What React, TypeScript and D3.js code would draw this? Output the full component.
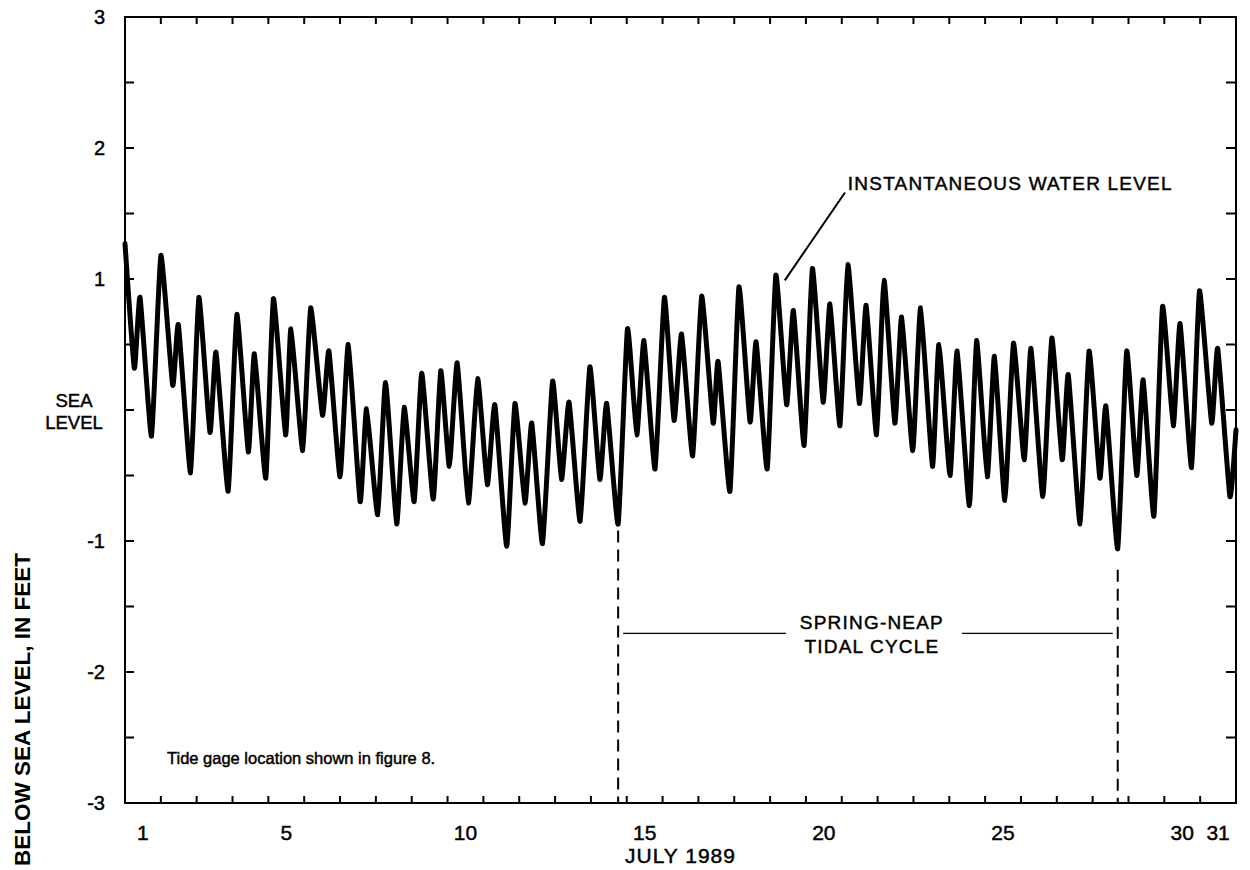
import React from 'react'
import { scaleLinear, line, curveCardinal, range } from 'd3'

// tide gage record, July 1989 (day of month, feet relative to sea level)
const tideDay = [
  1.00, 1.26, 1.42, 1.74, 2.00, 2.33, 2.49, 2.83, 3.06, 3.37,
  3.54, 3.88, 4.12, 4.44, 4.61, 4.93, 5.14, 5.48, 5.63, 5.96,
  6.18, 6.51, 6.69, 7.00, 7.23, 7.56, 7.74, 8.05, 8.27, 8.58,
  8.79, 9.07, 9.28, 9.60, 9.81, 10.05, 10.27, 10.58, 10.84, 11.11,
  11.32, 11.65, 11.88, 12.16, 12.35, 12.65, 12.93, 13.18, 13.39, 13.70,
  13.97, 14.25, 14.44, 14.76, 15.02, 15.28, 15.48, 15.79, 16.05, 16.32,
  16.53, 16.84, 17.09, 17.41, 17.55, 17.88, 18.13, 18.44, 18.61, 18.92,
  19.16, 19.46, 19.65, 19.95, 20.18, 20.48, 20.67, 20.95, 21.17, 21.49,
  21.68, 21.97, 22.18, 22.48, 22.67, 22.98, 23.20, 23.53, 23.71, 24.02,
  24.22, 24.56, 24.76, 25.06, 25.26, 25.55, 25.79, 26.09, 26.28, 26.61,
  26.86, 27.15, 27.32, 27.65, 27.90, 28.20, 28.37, 28.70, 28.95, 29.23,
  29.41, 29.71, 29.95, 30.25, 30.44, 30.76, 30.98, 31.32, 31.49, 31.83,
  32.00
]
const tideFeet = [
  1.27, 0.32, 0.86, -0.20, 1.18, 0.19, 0.65, -0.48, 0.86, -0.17,
  0.44, -0.62, 0.73, -0.32, 0.43, -0.52, 0.85, -0.19, 0.62, -0.31,
  0.78, -0.04, 0.45, -0.51, 0.50, -0.70, 0.01, -0.80, 0.21, -0.87,
  0.02, -0.70, 0.28, -0.68, 0.30, -0.43, 0.36, -0.71, 0.24, -0.57,
  0.04, -1.04, 0.05, -0.71, -0.10, -1.02, 0.22, -0.53, 0.06, -0.85,
  0.33, -0.53, 0.05, -0.87, 0.62, -0.19, 0.53, -0.45, 0.86, -0.08,
  0.58, -0.35, 0.87, -0.10, 0.37, -0.62, 0.94, -0.09, 0.52, -0.45,
  1.03, 0.04, 0.76, -0.27, 1.08, 0.06, 0.81, -0.12, 1.11, 0.05,
  0.80, -0.19, 0.99, -0.10, 0.71, -0.31, 0.78, -0.43, 0.50, -0.50,
  0.45, -0.73, 0.53, -0.51, 0.41, -0.69, 0.51, -0.38, 0.47, -0.66,
  0.55, -0.38, 0.27, -0.87, 0.45, -0.52, 0.03, -1.06, 0.45, -0.50,
  0.23, -0.81, 0.79, -0.12, 0.66, -0.44, 0.91, -0.10, 0.47, -0.66,
  -0.15
]

const xLabelDays = [1, 5, 10, 15, 20, 25, 30, 31]
const yLabelValues = [3, 2, 1, -1, -2, -3]
const xAxisTitle = 'JULY 1989'
const yAxisTitle = 'BELOW SEA LEVEL, IN FEET'
const note = 'Tide gage location shown in figure 8.'

// spring-neap cycle: trough to trough
const cycleStart = { day: 14.76, top: -0.92 }
const cycleEnd = { day: 28.70, top: -1.22 }
const cycleLevel = -1.705

// leader for the curve label
const leaderFrom = { day: 19.41, feet: 0.99 }
const leaderTo = { day: 21.09, feet: 1.66 }
const curveLabel = { day: 21.17, feet: 1.68, text: 'INSTANTANEOUS WATER LEVEL' }

const font = '"Liberation Sans", Arial, Helvetica, sans-serif'

export default function App() {
  const width = 1250,
    height = 870,
    plot = { left: 125, right: 1236, top: 17, bottom: 803 }

  const xScale = scaleLinear().domain([1, 32]).range([plot.left, plot.right])
  const yScale = scaleLinear().domain([-3, 3]).range([plot.bottom, plot.top])

  const points = tideDay.map((d, i) => [d, tideFeet[i]] as [number, number])
  const lineGenerator = line<[number, number]>()
    .x(d => xScale(d[0]))
    .y(d => yScale(d[1]))
    .curve(curveCardinal.tension(0.55))

  const dayTicks = range(2, 32)
  const halfTicks = range(-2.5, 2.75, 0.5)

  const cx = (xScale(cycleStart.day) + xScale(cycleEnd.day)) / 2
  const cy = yScale(cycleLevel)

  // scanned lettering is a bit heavier than the regular face
  const ink = { fill: '#000', stroke: '#000', strokeWidth: 0.45 }

  return (
    <div>
      <style>{'body{margin:0}'}</style>
      <svg width={width} height={height} style={{ display: 'block', background: '#fff' }} fontFamily={font}>
        {/* frame */}
        <rect x={plot.left} y={plot.top} width={plot.right - plot.left} height={plot.bottom - plot.top}
          fill='none' stroke='#000' strokeWidth={2} />

        {/* day ticks, inward top and bottom */}
        {dayTicks.map(d => (
          <g key={'d' + d} stroke='#000' strokeWidth={2}>
            <line x1={xScale(d)} x2={xScale(d)} y1={plot.top} y2={plot.top + 7} />
            <line x1={xScale(d)} x2={xScale(d)} y1={plot.bottom} y2={plot.bottom - 7} />
          </g>
        ))}

        {/* half-foot ticks, inward left and right */}
        {halfTicks.map(v => (
          <g key={'v' + v} stroke='#000' strokeWidth={2}>
            <line x1={plot.left} x2={plot.left + 9} y1={yScale(v)} y2={yScale(v)} />
            <line x1={plot.right} x2={plot.right - 10} y1={yScale(v)} y2={yScale(v)} />
          </g>
        ))}

        {/* y labels */}
        {yLabelValues.map(v => (
          <text key={'yl' + v} x={plot.left - 20} y={yScale(v) + 7} textAnchor='end' fontSize={20} {...ink}>
            {v}
          </text>
        ))}
        <text x={74} y={yScale(0) - 3} textAnchor='middle' fontSize={18.5} {...ink}>SEA</text>
        <text x={74} y={yScale(0) + 19} textAnchor='middle' fontSize={18.5} {...ink}>LEVEL</text>

        {/* x labels */}
        {xLabelDays.map(d => (
          <text key={'xl' + d} x={xScale(d + 0.5)} y={840} textAnchor='middle' fontSize={21} {...ink}>
            {d}
          </text>
        ))}
        <text x={(plot.left + plot.right) / 2} y={863} textAnchor='middle' fontSize={21} letterSpacing={1} {...ink}>
          {xAxisTitle}
        </text>

        {/* y title along the left edge */}
        <text transform={`translate(30, 553) rotate(-90)`} textAnchor='end' fontSize={22.5} fontWeight='bold'>
          {yAxisTitle}
        </text>

        {/* water level */}
        <path d={lineGenerator(points) || ''} fill='none' stroke='#000' strokeWidth={5}
          strokeLinejoin='round' strokeLinecap='round' />

        {/* spring-neap bracket */}
        <line x1={xScale(cycleStart.day)} x2={xScale(cycleStart.day)} y1={yScale(cycleStart.top)} y2={plot.bottom}
          stroke='#000' strokeWidth={2} strokeDasharray='12 7' />
        <line x1={xScale(cycleEnd.day)} x2={xScale(cycleEnd.day)} y1={yScale(cycleEnd.top)} y2={plot.bottom}
          stroke='#000' strokeWidth={2} strokeDasharray='12 7' />
        <line x1={xScale(cycleStart.day) + 5} x2={cx - 82} y1={cy} y2={cy} stroke='#000' strokeWidth={1.4} />
        <line x1={cx + 94} x2={xScale(cycleEnd.day) - 5} y1={cy} y2={cy} stroke='#000' strokeWidth={1.4} />
        <text x={cx + 4} y={629} textAnchor='middle' fontSize={19} letterSpacing={1.2} {...ink}>SPRING-NEAP</text>
        <text x={cx + 4} y={653} textAnchor='middle' fontSize={19} letterSpacing={1.2} {...ink}>TIDAL CYCLE</text>

        {/* curve label */}
        <line x1={xScale(leaderFrom.day)} y1={yScale(leaderFrom.feet)} x2={xScale(leaderTo.day)} y2={yScale(leaderTo.feet)}
          stroke='#000' strokeWidth={2} />
        <text x={xScale(curveLabel.day)} y={yScale(curveLabel.feet)} fontSize={19} letterSpacing={1.2} {...ink}>
          {curveLabel.text}
        </text>

        <text x={167} y={764} fontSize={16.5} {...ink}>{note}</text>
      </svg>
    </div>
  )
}
